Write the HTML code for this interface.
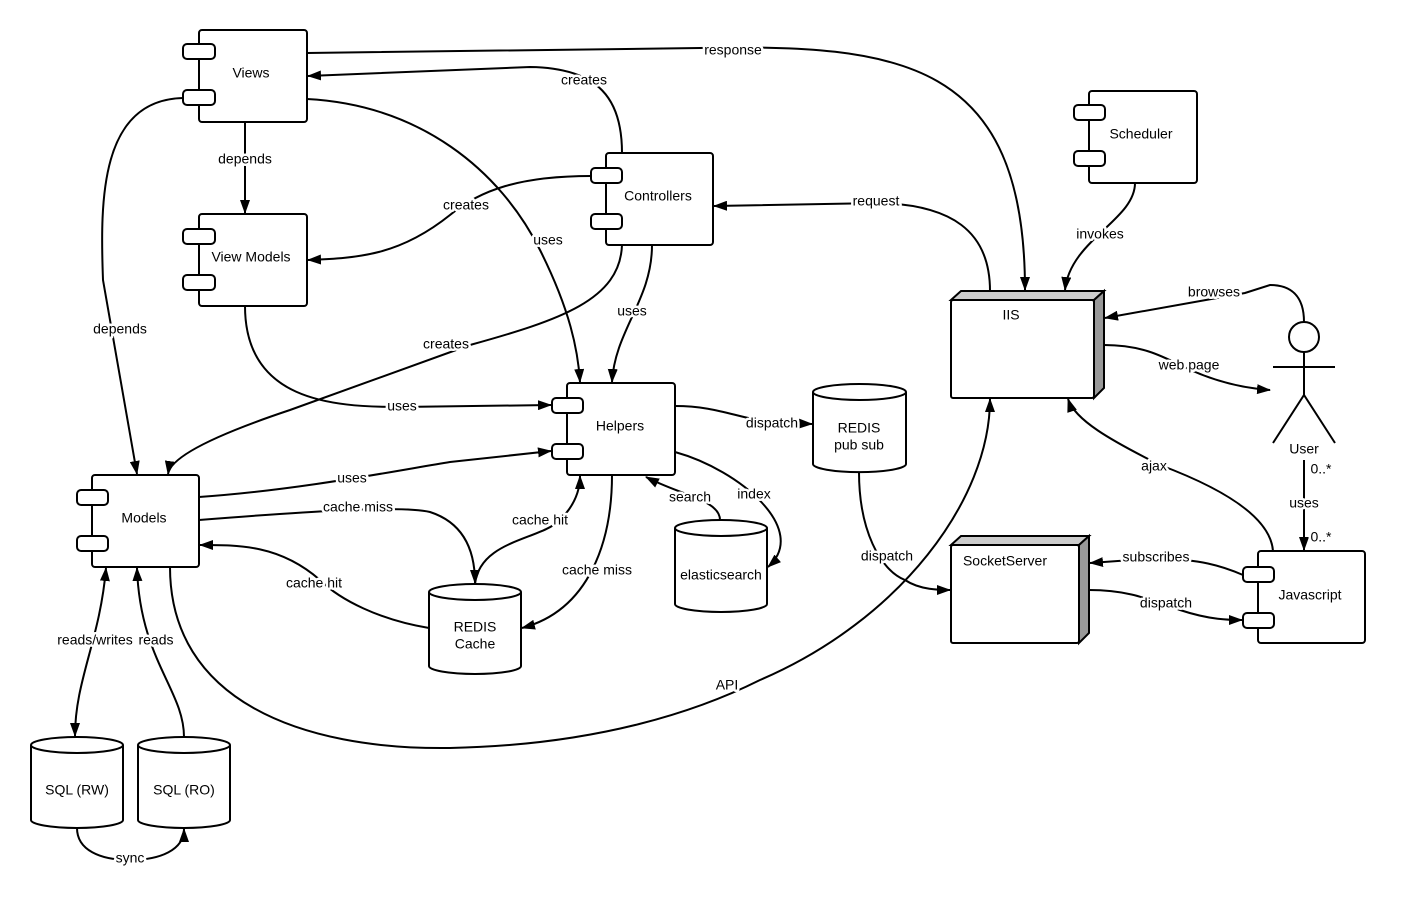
<!DOCTYPE html>
<html><head><meta charset="utf-8"><style>
html,body{margin:0;padding:0;background:#fff;}
svg{display:block;}
text{font-family:"Liberation Sans",sans-serif;font-size:14px;fill:#000;}
.lbl{paint-order:stroke;stroke:#fff;stroke-width:5px;stroke-linejoin:round;text-anchor:middle;dominant-baseline:middle;}
.c{text-anchor:middle;dominant-baseline:middle;}
.e{fill:none;stroke:#000;stroke-width:2;marker-end:url(#a);}
.n{fill:none;stroke:#000;stroke-width:2;}
.b{fill:#fff;stroke:#000;stroke-width:2;}
</style></head><body>
<svg width="1427" height="900" viewBox="0 0 1427 900" xmlns="http://www.w3.org/2000/svg">
<defs>
<marker id="a" viewBox="0 0 14 10" refX="13" refY="5" markerWidth="14" markerHeight="10" markerUnits="userSpaceOnUse" orient="auto-start-reverse"><path d="M0,0 L14,5 L0,10 z" fill="#000"/></marker>
</defs>
<rect width="1427" height="900" fill="#fff"/>

<path class="e" d="M307,53 L700,48 C900,44 1025,60 1025,290"/>
<path class="e" d="M622,153 C622,100 600,68 530,67 L308,76"/>
<path class="e" d="M307,99 C420,105 500,170 540,250 C570,310 578,350 580,382"/>
<path class="e" d="M245,122 L245,213"/>
<path class="e" d="M183,98 C100,100 100,200 103,280 L137,474"/>
<path class="e" d="M591,176 C520,176 480,190 450,215 C400,255 360,258 308,260"/>
<path class="e" d="M652,245 C652,300 615,330 612,382"/>
<path class="e" d="M622,245 C620,300 560,320 470,345 L290,410 C200,440 170,460 168,474"/>
<path class="e" d="M990,291 C990,230 950,205 880,203 L714,206"/>
<path class="e" d="M1135,183 C1135,220 1070,240 1065,290"/>
<path class="e" d="M245,306 C245,400 330,407 400,407 L551,405"/>
<path class="e" d="M199,497 C300,490 400,470 450,462 L551,451"/>
<path class="e" d="M675,406 C720,406 740,420 780,423 L812,424"/>
<path class="e" d="M675,452 C740,470 810,530 768,567"/>
<path class="e" d="M720,520 C720,500 680,495 646,477"/>
<path class="e" d="M199,520 C300,512 400,505 430,512 C470,525 475,560 475,583"/>
<path class="e" d="M429,628 C380,620 340,600 320,580 C280,545 240,545 200,545"/>
<path class="e" d="M475,584 C480,540 540,540 560,520 C575,505 580,490 580,476"/>
<path class="e" d="M612,475 C612,540 590,610 522,628"/>
<path class="e" d="M859,472 C859,530 880,570 905,580 C920,590 940,590 950,590"/>
<path class="e" d="M170,567 C170,700 300,750 450,748 C600,745 700,710 760,680 C900,620 990,500 990,399"/>
<path class="e" d="M1304,322 C1304,295 1290,285 1270,285 L1245,293 L1105,318"/>
<path class="e" d="M1104,345 C1140,345 1160,355 1180,365 C1210,380 1240,388 1270,390"/>
<path class="e" d="M1273,551 C1270,510 1200,480 1160,465 C1110,440 1075,420 1068,399"/>
<path class="e" d="M1304,460 L1304,550"/>
<path class="e" d="M1243,575 C1220,565 1200,560 1160,558 L1090,563"/>
<path class="e" d="M1089,590 C1130,590 1150,600 1180,610 C1210,620 1230,620 1242,620"/>
<path class="e" d="M77,828 C77,850 100,860 130,860 C160,860 184,850 184,829"/>
<path class="e" style="marker-start:url(#a)" d="M106,568 C100,640 75,680 75,736"/>
<path class="e" d="M184,737 C184,690 140,660 137,568"/>

<g>
<rect class="b" x="199" y="30" width="108" height="92" rx="3"/><rect class="b" x="183" y="44" width="32" height="15" rx="4"/><rect class="b" x="183" y="90" width="32" height="15" rx="4"/><text class="c" x="251" y="74">Views</text>
<rect class="b" x="199" y="214" width="108" height="92" rx="3"/><rect class="b" x="183" y="229" width="32" height="15" rx="4"/><rect class="b" x="183" y="275" width="32" height="15" rx="4"/><text class="c" x="251" y="258">View Models</text>
<rect class="b" x="606" y="153" width="107" height="92" rx="3"/><rect class="b" x="591" y="168" width="31" height="15" rx="4"/><rect class="b" x="591" y="214" width="31" height="15" rx="4"/><text class="c" x="658" y="197">Controllers</text>
<rect class="b" x="567" y="383" width="108" height="92" rx="3"/><rect class="b" x="552" y="398" width="31" height="15" rx="4"/><rect class="b" x="552" y="444" width="31" height="15" rx="4"/><text class="c" x="620" y="427">Helpers</text>
<rect class="b" x="92" y="475" width="107" height="92" rx="3"/><rect class="b" x="77" y="490" width="31" height="15" rx="4"/><rect class="b" x="77" y="536" width="31" height="15" rx="4"/><text class="c" x="144" y="519">Models</text>
<rect class="b" x="1089" y="91" width="108" height="92" rx="3"/><rect class="b" x="1074" y="105" width="31" height="15" rx="4"/><rect class="b" x="1074" y="151" width="31" height="15" rx="4"/><text class="c" x="1141" y="135">Scheduler</text>
<rect class="b" x="1258" y="551" width="107" height="92" rx="3"/><rect class="b" x="1243" y="567" width="31" height="15" rx="4"/><rect class="b" x="1243" y="613" width="31" height="15" rx="4"/><text class="c" x="1310" y="596">Javascript</text>
</g>

<path d="M951,300 L961,291 L1104,291 L1094,300 z" fill="#ccc" stroke="#000" stroke-width="2"/>
<path d="M1094,300 L1104,291 L1104,388 L1094,398 z" fill="#999" stroke="#000" stroke-width="2"/>
<rect class="b" x="951" y="300" width="143" height="98" rx="2"/>
<text class="c" x="1011" y="316">IIS</text>
<path d="M951,545 L961,536 L1089,536 L1079,545 z" fill="#ccc" stroke="#000" stroke-width="2"/>
<path d="M1079,545 L1089,536 L1089,633 L1079,643 z" fill="#999" stroke="#000" stroke-width="2"/>
<rect class="b" x="951" y="545" width="128" height="98" rx="2"/>
<text class="c" x="1005" y="562">SocketServer</text>

<g>
<path class="b" d="M813,392 L813,464 A46,8 0 0 0 906,464 L906,392"/><ellipse class="b" cx="859.5" cy="392" rx="46.5" ry="8"/>
<text class="c" x="859" y="429">REDIS</text><text class="c" x="859" y="446">pub sub</text>
<path class="b" d="M675,528 L675,604 A46,8 0 0 0 767,604 L767,528"/><ellipse class="b" cx="721" cy="528" rx="46" ry="8"/>
<text class="c" x="721" y="576">elasticsearch</text>
<path class="b" d="M429,592 L429,666 A46,8 0 0 0 521,666 L521,592"/><ellipse class="b" cx="475" cy="592" rx="46" ry="8"/>
<text class="c" x="475" y="628">REDIS</text><text class="c" x="475" y="645">Cache</text>
<path class="b" d="M31,745 L31,820 A46,8 0 0 0 123,820 L123,745"/><ellipse class="b" cx="77" cy="745" rx="46" ry="8"/>
<text class="c" x="77" y="791">SQL (RW)</text>
<path class="b" d="M138,745 L138,820 A46,8 0 0 0 230,820 L230,745"/><ellipse class="b" cx="184" cy="745" rx="46" ry="8"/>
<text class="c" x="184" y="791">SQL (RO)</text>
</g>

<circle class="b" cx="1304" cy="337" r="15"/>
<path class="n" d="M1304,352 L1304,395 M1273,367 L1335,367 M1273,443 L1304,395 L1335,443"/>
<text class="c" x="1304" y="450">User</text>

<text class="lbl" x="733" y="51">response</text>
<text class="lbl" x="584" y="81">creates</text>
<text class="lbl" x="548" y="241">uses</text>
<text class="lbl" x="245" y="160">depends</text>
<text class="lbl" x="120" y="330">depends</text>
<text class="lbl" x="466" y="206">creates</text>
<text class="lbl" x="632" y="312">uses</text>
<text class="lbl" x="446" y="345">creates</text>
<text class="lbl" x="876" y="202">request</text>
<text class="lbl" x="1100" y="235">invokes</text>
<text class="lbl" x="402" y="407">uses</text>
<text class="lbl" x="352" y="479">uses</text>
<text class="lbl" x="772" y="424">dispatch</text>
<text class="lbl" x="754" y="495">index</text>
<text class="lbl" x="690" y="498">search</text>
<text class="lbl" x="358" y="508">cache miss</text>
<text class="lbl" x="314" y="584">cache hit</text>
<text class="lbl" x="540" y="521">cache hit</text>
<text class="lbl" x="597" y="571">cache miss</text>
<text class="lbl" x="887" y="557">dispatch</text>
<text class="lbl" x="727" y="686">API</text>
<text class="lbl" x="1214" y="293">browses</text>
<text class="lbl" x="1189" y="366">web page</text>
<text class="lbl" x="1154" y="467">ajax</text>
<text class="lbl" x="1304" y="504">uses</text>
<text class="lbl" x="1321" y="470">0..*</text>
<text class="lbl" x="1321" y="538">0..*</text>
<text class="lbl" x="1156" y="558">subscribes</text>
<text class="lbl" x="1166" y="604">dispatch</text>
<text class="lbl" x="130" y="859">sync</text>
<text class="lbl" x="95" y="641">reads/writes</text>
<text class="lbl" x="156" y="641">reads</text>
</svg>
</body></html>
